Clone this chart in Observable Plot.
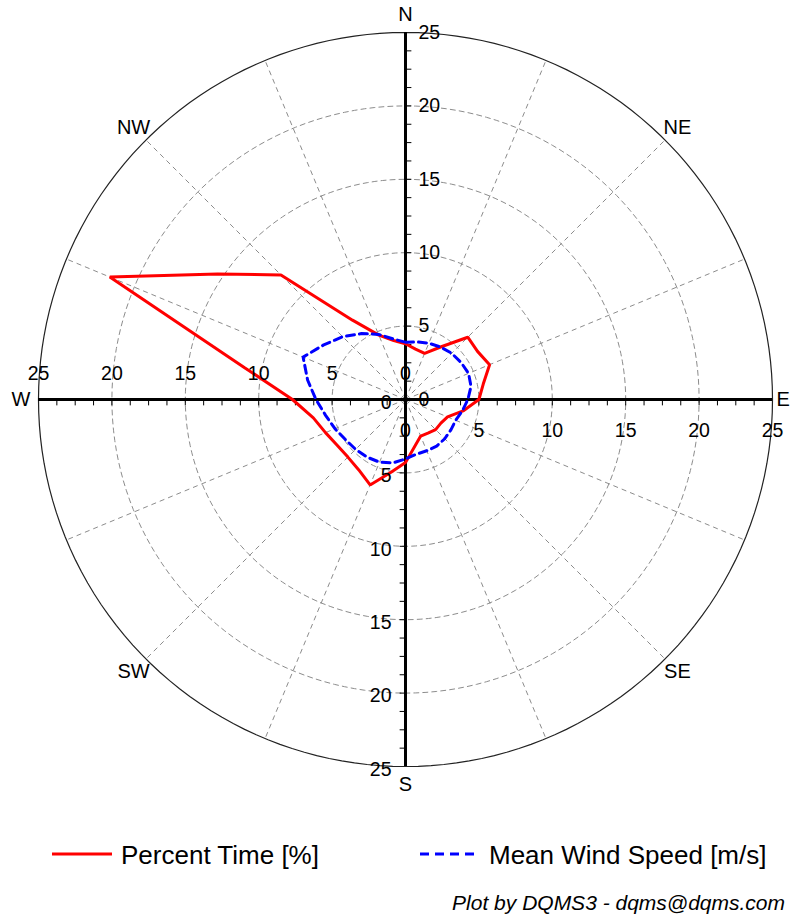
<!DOCTYPE html>
<html>
<head>
<meta charset="utf-8">
<script src="https://cdn.jsdelivr.net/npm/d3@7"></script>
<script src="https://cdn.jsdelivr.net/npm/@observablehq/plot@0.6"></script>
<style>
  html, body { margin: 0; padding: 0; background: #fff; }
  body { width: 801px; font-family: "Liberation Sans", Arial, sans-serif; }
  #chart svg { display: block; }
  #foot { position: relative; width: 801px; height: 110px; }
  .lg-line { position: absolute; height: 0; }
  .lg-text { position: absolute; font-size: 26px; line-height: 30px; color: #000; white-space: nowrap; }
  #caption { position: absolute; right: 16px; top: 81px; font-size: 21px; line-height: 24px; font-style: italic; white-space: nowrap; }
</style>
</head>
<body>
<div id="chart"></div>
<div id="foot">
  <svg class="lg-line" style="left:52px; top:40px; height:8px; width:62px; overflow:visible">
    <line x1="0" y1="4" x2="60" y2="4" stroke="#ff0000" stroke-width="3"/>
  </svg>
  <div class="lg-text" style="left:121px; top:30px;">Percent Time [%]</div>
  <svg class="lg-line" style="left:420px; top:40px; height:8px; width:62px; overflow:visible">
    <line x1="0" y1="4" x2="58" y2="4" stroke="#0000ff" stroke-width="3" stroke-dasharray="9,6"/>
  </svg>
  <div class="lg-text" style="left:489px; top:30px;">Mean Wind Speed [m/s]</div>
  <div id="caption">Plot by DQMS3 - dqms@dqms.com</div>
</div>
<script>
// ---- data ----
const directions = [0, 11.25, 22.5, 33.75, 45, 56.25, 67.5, 78.75,
  90, 101.25, 112.5, 123.75, 135, 146.25, 157.5, 168.75,
  180, 191.25, 202.5, 213.75, 225, 236.25, 247.5, 258.75,
  270, 281.25, 292.5, 303.75, 315, 326.25, 337.5, 348.75];
const percentTime = [3.8, 3.5, 3.4, 4.3, 6.0, 5.9, 6.2, 5.4,
  5.0, 4.0, 3.1, 2.9, 2.9, 2.75, 2.7, 3.25,
  4.3, 5.05, 6.3, 5.75, 5.55, 5.6, 5.9, 6.4,
  7.7, 11.2, 21.8, 15.4, 12.0, 6.5, 4.75, 4.1];
const meanWindSpeed = [3.9, 4.0, 4.15, 4.3, 4.45, 4.55, 4.65, 4.55,
  4.25, 3.95, 3.7, 3.72, 3.78, 3.82, 3.78, 3.8,
  4.05, 4.4, 4.62, 4.72, 4.8, 4.92, 5.2, 5.55,
  6.1, 6.8, 7.55, 6.7, 6.05, 5.4, 4.8, 4.2];
const ringValues = [5, 10, 15, 20];
const outerRing = 25;
const tickValues = [0, 5, 10, 15, 20, 25];
const compassLabels = ["N", "NE", "SE", "S", "SW", "W", "NW"];
const compassBearings = [0, 45, 135, 180, 225, 270, 315];
const eastLabel = ["E"];
const eastBearing = 90;
const spokeBearings = [0, 22.5, 45, 67.5, 90, 112.5, 135, 157.5,
  180, 202.5, 225, 247.5, 270, 292.5, 315, 337.5];
const minorTicks = [1.25, 2.5, 3.75, 5, 6.25, 7.5, 8.75, 10, 11.25, 12.5, 13.75, 15,
  16.25, 17.5, 18.75, 20, 21.25, 22.5, 23.75];

// ---- helpers ----
const rad = b => b * Math.PI / 180;
const px = (b, r) => r * Math.sin(rad(b));
const py = (b, r) => r * Math.cos(rad(b));

const redPts = directions.map((b, i) => ({b, r: percentTime[i]}));
const bluePts = directions.map((b, i) => ({b, r: meanWindSpeed[i]}));

function circlePoints(values) {
  const out = [];
  for (const r of values) for (let a = 0; a <= 360; a += 2) out.push({r, a});
  return out;
}
const gridCircles = circlePoints(ringValues);
const outerCircle = circlePoints([outerRing]);

const grey = "#8c8c8c";
const font = "Liberation Sans, Arial, sans-serif";

const chart = Plot.plot({
  width: 801,
  height: 810,
  marginLeft: 38,
  marginRight: 29,
  marginTop: 32,
  marginBottom: 44,
  x: {domain: [-25, 25], axis: null},
  y: {domain: [-25, 25], axis: null},
  style: {fontFamily: font, background: "#fff", overflow: "visible"},
  marks: [
    // dashed grid rings
    Plot.line(gridCircles, {x: d => px(d.a, d.r), y: d => py(d.a, d.r), z: "r",
      stroke: grey, strokeWidth: 1, strokeDasharray: "5,4"}),
    // dashed spokes
    Plot.link(spokeBearings, {x1: 0, y1: 0, x2: b => px(b, outerRing), y2: b => py(b, outerRing),
      stroke: grey, strokeWidth: 1, strokeDasharray: "5,4"}),
    // outer ring
    Plot.line(outerCircle, {x: d => px(d.a, d.r), y: d => py(d.a, d.r),
      stroke: "#222", strokeWidth: 1.2}),
    // main axes
    Plot.ruleX([0], {y1: -outerRing, y2: outerRing, stroke: "#000", strokeWidth: 3}),
    Plot.ruleY([0], {x1: -outerRing, x2: outerRing, stroke: "#000", strokeWidth: 3}),
    // minor ticks on axes
    Plot.link(minorTicks, {x1: 0, x2: 0.4, y1: d => d, y2: d => d, stroke: "#000", strokeWidth: 1}),
    Plot.link(minorTicks, {x1: -0.4, x2: 0, y1: d => -d, y2: d => -d, stroke: "#000", strokeWidth: 1}),
    Plot.link(minorTicks, {x1: d => d, x2: d => d, y1: 0, y2: -0.4, stroke: "#000", strokeWidth: 1}),
    Plot.link(minorTicks, {x1: d => -d, x2: d => -d, y1: 0, y2: -0.4, stroke: "#000", strokeWidth: 1}),
    // data
    Plot.line(redPts, {x: d => px(d.b, d.r), y: d => py(d.b, d.r), curve: "linear-closed",
      stroke: "#ff0000", strokeWidth: 3, strokeLinejoin: "miter"}),
    Plot.line(bluePts, {x: d => px(d.b, d.r), y: d => py(d.b, d.r), curve: "linear-closed",
      stroke: "#0000ff", strokeWidth: 3, strokeDasharray: "8,5"}),
    // tick labels on the four half-axes
    Plot.text(tickValues, {x: 0, y: d => d, text: d => String(d), dx: 13, textAnchor: "start",
      fontSize: 19.5, fill: "#000"}),
    Plot.text(tickValues, {x: d => d, y: 0, text: d => String(d), dy: 31,
      fontSize: 19.5, fill: "#000"}),
    Plot.text(tickValues, {x: 0, y: d => -d, text: d => String(d), dx: -14, dy: 3, textAnchor: "end",
      fontSize: 19.5, fill: "#000"}),
    Plot.text(tickValues, {x: d => -d, y: 0, text: d => String(d), dy: -26,
      fontSize: 19.5, fill: "#000"}),
    // compass labels
    Plot.text(compassLabels, {x: (d, i) => px(compassBearings[i], 26.2), y: (d, i) => py(compassBearings[i], 26.2),
      text: d => d, fontSize: 20, fill: "#000"}),
    Plot.text(eastLabel, {x: px(eastBearing, 26.2), y: py(eastBearing, 26.2), text: d => d, dx: -7,
      fontSize: 20, fill: "#000"})
  ]
});
document.getElementById("chart").appendChild(chart);
</script>
</body>
</html>
